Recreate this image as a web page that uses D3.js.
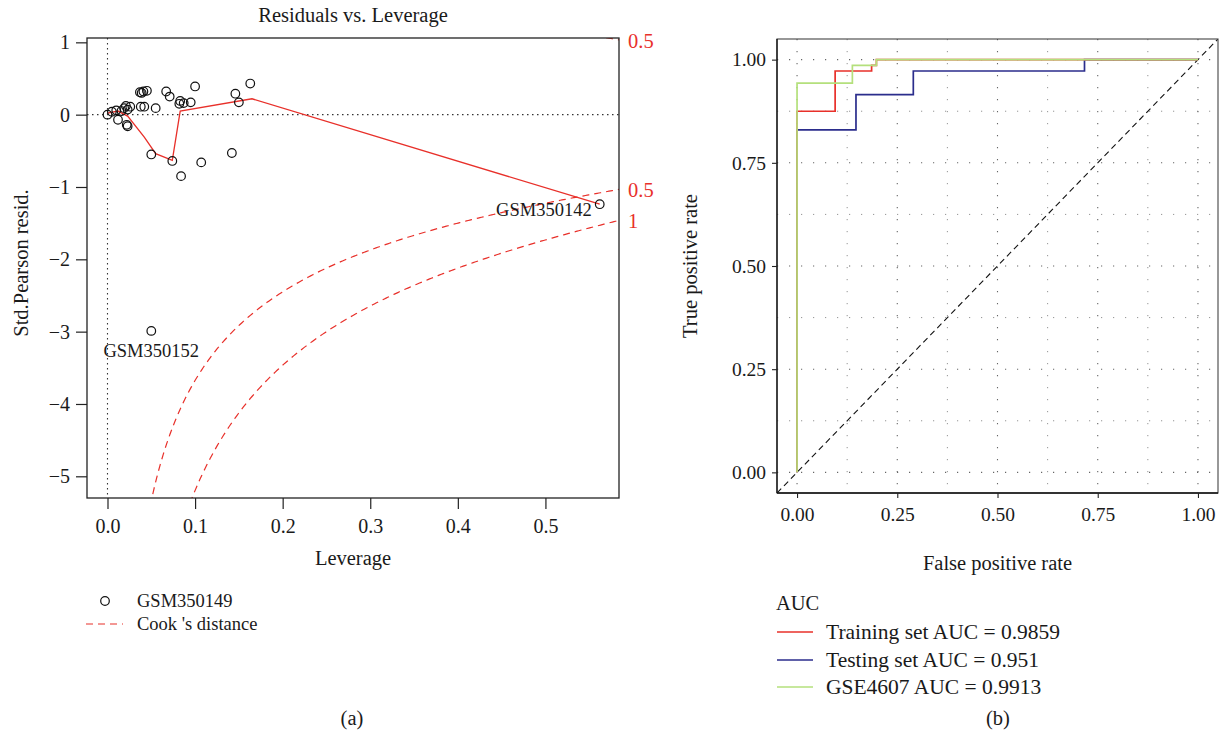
<!DOCTYPE html>
<html><head><meta charset="utf-8">
<script src="https://cdn.jsdelivr.net/npm/d3@7"></script>
<style>
body{margin:0;background:#fff}
text{font-family:"Liberation Serif","DejaVu Serif",serif;fill:#1a1a1a;font-size:20.5px}
</style>
</head><body>
<svg id="c" width="1221" height="739"></svg>
<script>
// ---------- Panel (a) data ----------
const leverage = [0.000, 0.005, 0.010, 0.012, 0.016, 0.019, 0.021, 0.023, 0.026, 0.022, 0.023,
  0.037, 0.039, 0.041, 0.045, 0.038, 0.042, 0.055, 0.050, 0.067, 0.071, 0.074, 0.083, 0.082,
  0.087, 0.095, 0.084, 0.100, 0.107, 0.142, 0.146, 0.150, 0.163, 0.562, 0.050];
const stdResid = [0.00, 0.04, 0.06, -0.07, 0.05, 0.09, 0.12, 0.07, 0.11, -0.14, -0.16,
  0.31, 0.30, 0.32, 0.33, 0.11, 0.11, 0.09, -0.55, 0.32, 0.25, -0.64, 0.19, 0.15,
  0.16, 0.17, -0.85, 0.39, -0.66, -0.53, 0.29, 0.17, 0.43, -1.238, -2.99];
const pointLabels = [{i: 33, name: "GSM350142"}, {i: 34, name: "GSM350152"}];
const smoothH = [0.000, 0.012, 0.023, 0.042, 0.055, 0.074, 0.083, 0.165, 0.562];
const smoothR = [0.02, 0.05, -0.02, -0.31, -0.54, -0.63, 0.05, 0.22, -1.238];
const cookLevels = [0.5, 1];
const nParams = 3;
const xTicksA = [0.0, 0.1, 0.2, 0.3, 0.4, 0.5];
const yTicksA = [1, 0, -1, -2, -3, -4, -5];

// ---------- Panel (b) data ----------
const rocSeries = ["Training set AUC = 0.9859", "Testing set AUC = 0.951", "GSE4607 AUC = 0.9913"];
const trainFpr = [0, 0, 0.095, 0.095, 0.186, 0.186, 0.198, 0.198, 1];
const trainTpr = [0, 0.875, 0.875, 0.9725, 0.9725, 0.986, 0.986, 1, 1];
const testFpr = [0, 0, 0.147, 0.147, 0.290, 0.290, 0.717, 0.717, 1];
const testTpr = [0, 0.83, 0.83, 0.915, 0.915, 0.9725, 0.9725, 1, 1];
const valFpr = [0, 0, 0.138, 0.138, 0.198, 0.198, 1];
const valTpr = [0, 0.943, 0.943, 0.986, 0.986, 1, 1];
const ticksB = [0, 0.25, 0.5, 0.75, 1];
const tickLabelsB = ["0.00", "0.25", "0.50", "0.75", "1.00"];

const RED = "#e8302a";
const svg = d3.select("#c");

// ================= Panel (a) =================
const xA = d3.scaleLinear().domain([-0.0234, 0.584]).range([87, 619]);
const yA = d3.scaleLinear().domain([1.06, -5.30]).range([38, 498]);
const [ax0, ax1] = xA.range(), [ay0, ay1] = yA.range();

svg.append("clipPath").attr("id", "clipA").append("rect")
  .attr("x", ax0).attr("y", ay0).attr("width", ax1 - ax0).attr("height", ay1 - ay0);
const gA = svg.append("g");
const plotA = gA.append("g").attr("clip-path", "url(#clipA)");

// reference dotted lines
plotA.append("line").attr("x1", xA(0)).attr("x2", xA(0)).attr("y1", ay0).attr("y2", ay1)
  .attr("stroke", "#333").attr("stroke-width", 1.1).attr("stroke-dasharray", "1.5,3.5");
plotA.append("line").attr("x1", ax0).attr("x2", ax1).attr("y1", yA(0)).attr("y2", yA(0))
  .attr("stroke", "#333").attr("stroke-width", 1.1).attr("stroke-dasharray", "1.5,3.5");

// Cook's distance contours
const hMax = xA.domain()[1];
cookLevels.forEach(lv => {
  const hs = d3.range(0.01, hMax + 1e-9, (hMax - 0.01) / 300).concat([hMax]);
  [1, -1].forEach(sg => {
    const line = d3.line().x(h => xA(h)).y(h => yA(sg * Math.sqrt(lv * nParams * (1 - h) / h)));
    plotA.append("path").attr("d", line(hs)).attr("fill", "none")
      .attr("stroke", RED).attr("stroke-width", 1.2).attr("stroke-dasharray", "7,5");
  });
});

// smoother
plotA.append("path")
  .attr("d", d3.line().x((d, i) => xA(smoothH[i])).y((d, i) => yA(smoothR[i]))(smoothH))
  .attr("fill", "none").attr("stroke", RED).attr("stroke-width", 1.3);

// points
plotA.selectAll("circle.pt").data(leverage).enter().append("circle")
  .attr("cx", (d, i) => xA(leverage[i])).attr("cy", (d, i) => yA(stdResid[i]))
  .attr("r", 4.3).attr("fill", "none").attr("stroke", "#111").attr("stroke-width", 1.2);

// box
gA.append("rect").attr("x", ax0).attr("y", ay0).attr("width", ax1 - ax0).attr("height", ay1 - ay0)
  .attr("fill", "none").attr("stroke", "#222").attr("stroke-width", 1.3);

// axes
const xAxisA = d3.axisBottom(xA).tickValues(xTicksA).tickFormat(d3.format(".1f")).tickSize(11).tickPadding(6);
const gxA = gA.append("g").attr("transform", `translate(0,${ay1})`).call(xAxisA);
const yAxisA = d3.axisLeft(yA).tickValues(yTicksA).tickFormat(d => d < 0 ? "\u2212" + Math.abs(d) : d).tickSize(11).tickPadding(6);
const gyA = gA.append("g").attr("transform", `translate(${ax0},0)`).call(yAxisA);
[gxA, gyA].forEach(g => {
  g.select(".domain").remove();
  g.selectAll("line").attr("stroke", "#222").attr("stroke-width", 1.2);
  g.selectAll("text").attr("font-size", null).style("font-size", "20px").attr("fill", "#1a1a1a")
    .attr("font-family", null);
});
gxA.selectAll("text").attr("dy", "0.9em");

// labels on points
pointLabels.forEach(p => {
  const px = xA(leverage[p.i]), py = yA(stdResid[p.i]);
  if (p.name === "GSM350142")
    gA.append("text").attr("x", px - 8).attr("y", py + 6).attr("text-anchor", "end")
      .attr("dominant-baseline", "central").style("font-size", "18.5px").text(p.name);
  else
    gA.append("text").attr("x", px).attr("y", py + 20).attr("text-anchor", "middle")
      .attr("dominant-baseline", "central").style("font-size", "18.5px").text(p.name);
});

// Cook level labels in right margin
cookLevels.forEach(lv => {
  const r = Math.sqrt(lv * nParams * (1 - hMax) / hMax);
  [r, -r].forEach(v => {
    const yv = yA(v);
    if (yv >= ay0 - 2 && yv <= ay1)
      gA.append("text").attr("x", ax1 + 9).attr("y", yv + 1).attr("dominant-baseline", "central")
        .style("fill", RED).text(lv);
  });
});

// titles
gA.append("text").attr("x", (ax0 + ax1) / 2).attr("y", 15).attr("text-anchor", "middle")
  .attr("dominant-baseline", "central").text("Residuals vs. Leverage");
gA.append("text").attr("x", (ax0 + ax1) / 2).attr("y", 558).attr("text-anchor", "middle")
  .attr("dominant-baseline", "central").text("Leverage");
gA.append("text").attr("transform", `translate(21,${(ay0 + ay1) / 2 - 5}) rotate(-90)`)
  .attr("text-anchor", "middle").attr("dominant-baseline", "central").text("Std.Pearson resid.");

// legend (a)
gA.append("circle").attr("cx", 105).attr("cy", 601).attr("r", 4.3).attr("fill", "none")
  .attr("stroke", "#111").attr("stroke-width", 1.2);
gA.append("text").attr("x", 137).attr("y", 601).attr("dominant-baseline", "central")
  .style("font-size", "18.5px").text("GSM350149");
gA.append("line").attr("x1", 86).attr("x2", 123).attr("y1", 624).attr("y2", 624)
  .attr("stroke", RED).attr("stroke-width", 1.2).attr("stroke-dasharray", "7,5");
gA.append("text").attr("x", 137).attr("y", 624).attr("dominant-baseline", "central")
  .style("font-size", "18.5px").text("Cook 's distance");

gA.append("text").attr("x", 352).attr("y", 718).attr("text-anchor", "middle")
  .attr("dominant-baseline", "central").text("(a)");

// ================= Panel (b) =================
const xB = d3.scaleLinear().domain([-0.05, 1.05]).range([777, 1218]);
const yB = d3.scaleLinear().domain([-0.05, 1.05]).range([493, 39]);
const [bx0, bx1] = xB.range(), [by1, by0] = yB.range();
const gB = svg.append("g");
svg.append("clipPath").attr("id", "clipB").append("rect")
  .attr("x", bx0).attr("y", by0).attr("width", bx1 - bx0).attr("height", by1 - by0);
const plotB = gB.append("g").attr("clip-path", "url(#clipB)");

// grid (every 0.125, dotted)
const gridVals = d3.range(0, 1.0001, 0.125);
gridVals.forEach(v => {
  const major = Math.abs(v * 4 - Math.round(v * 4)) < 1e-6;
  plotB.append("line").attr("x1", xB(v)).attr("x2", xB(v)).attr("y1", by0).attr("y2", by1)
    .attr("stroke", major ? "#666" : "#888").attr("stroke-width", major ? 1.1 : 0.9)
    .attr("stroke-dasharray", "1.2,10.8");
  plotB.append("line").attr("x1", bx0).attr("x2", bx1).attr("y1", yB(v)).attr("y2", yB(v))
    .attr("stroke", major ? "#666" : "#888").attr("stroke-width", major ? 1.1 : 0.9)
    .attr("stroke-dasharray", "1.2,10.8");
});

// diagonal
plotB.append("line").attr("x1", xB(-0.05)).attr("y1", yB(-0.05)).attr("x2", xB(1.05)).attr("y2", yB(1.05))
  .attr("stroke", "#111").attr("stroke-width", 1.1).attr("stroke-dasharray", "6,4");

// ROC curves
const rocData = [
  {f: trainFpr, t: trainTpr, c: "#e8302a"},
  {f: testFpr, t: testTpr, c: "#2b2d8c"},
  {f: valFpr, t: valTpr, c: "#b4e07c"}
];
const drawOrder = [1, 0, 2];
const rocLine = s => d3.line().x((d, i) => xB(s.f[i])).y((d, i) => yB(s.t[i]))(s.f);
drawOrder.forEach(k => {
  const s = rocData[k];
  plotB.append("path").attr("d", rocLine(s)).attr("fill", "none").attr("stroke", s.c)
    .attr("stroke-width", 1.7);
});

// border
gB.append("rect").attr("x", bx0).attr("y", by0).attr("width", bx1 - bx0).attr("height", by1 - by0)
  .attr("fill", "none").attr("stroke", "#444").attr("stroke-width", 1.1);
gB.append("line").attr("x1", bx0).attr("x2", bx0).attr("y1", by0).attr("y2", by1).attr("stroke", "#111").attr("stroke-width", 1.3);
gB.append("line").attr("x1", bx0).attr("x2", bx1).attr("y1", by1).attr("y2", by1).attr("stroke", "#111").attr("stroke-width", 1.3);

const xAxisB = d3.axisBottom(xB).tickValues(ticksB).tickFormat((d, i) => tickLabelsB[i]).tickSize(5).tickPadding(9);
const gxB = gB.append("g").attr("transform", `translate(0,${by1})`).call(xAxisB);
const yAxisB = d3.axisLeft(yB).tickValues(ticksB).tickFormat((d, i) => tickLabelsB[i]).tickSize(5).tickPadding(6);
const gyB = gB.append("g").attr("transform", `translate(${bx0},0)`).call(yAxisB);
[gxB, gyB].forEach(g => {
  g.select(".domain").remove();
  g.selectAll("line").attr("stroke", "#222").attr("stroke-width", 1.1);
  g.selectAll("text").attr("font-size", null).style("font-size", "19.5px").attr("fill", "#1a1a1a")
    .attr("font-family", null);
});

gB.append("text").attr("x", (bx0 + bx1) / 2).attr("y", 563).attr("text-anchor", "middle")
  .attr("dominant-baseline", "central").text("False positive rate");
gB.append("text").attr("transform", `translate(690,${(by0 + by1) / 2}) rotate(-90)`)
  .attr("text-anchor", "middle").attr("dominant-baseline", "central").text("True positive rate");

// legend (b)
gB.append("text").attr("x", 776).attr("y", 603).attr("dominant-baseline", "central").text("AUC");
const legY = [632, 660, 687];
rocSeries.forEach((name, i) => {
  gB.append("line").attr("x1", 777).attr("x2", 813).attr("y1", legY[i]).attr("y2", legY[i])
    .attr("stroke", rocData[i].c).attr("stroke-width", 1.4);
  gB.append("text").attr("x", 826).attr("y", legY[i]).attr("dominant-baseline", "central")
    .style("font-size", "21.5px").text(name);
});

gB.append("text").attr("x", 998).attr("y", 718).attr("text-anchor", "middle")
  .attr("dominant-baseline", "central").text("(b)");
</script>
</body></html>
